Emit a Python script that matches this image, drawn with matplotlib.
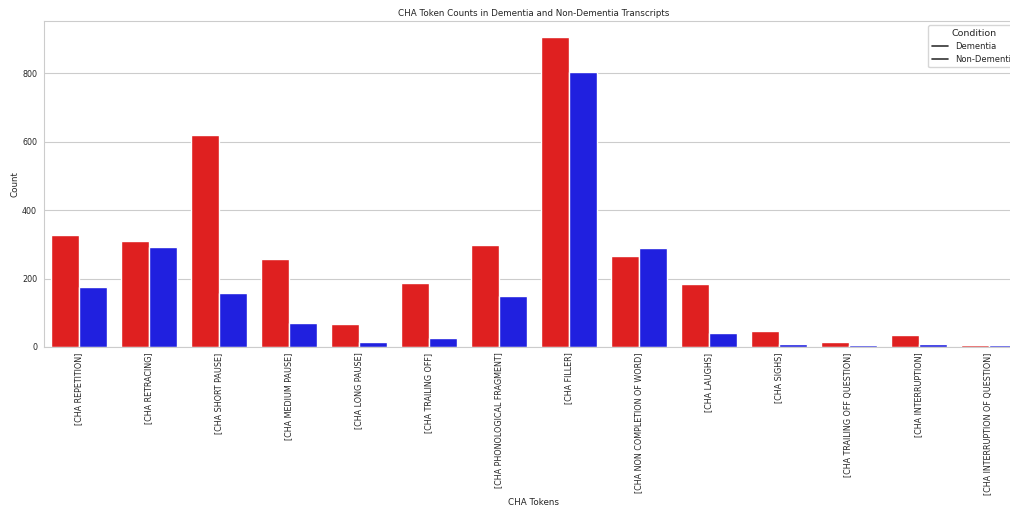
import numpy as np
import pandas as pd
import seaborn as sns
import matplotlib.pyplot as plt
from matplotlib.lines import Line2D

# Token categories and counts per condition
tokens = ["[CHA REPETITION]", "[CHA RETRACING]", "[CHA SHORT PAUSE]", "[CHA MEDIUM PAUSE]",
          "[CHA LONG PAUSE]", "[CHA TRAILING OFF]", "[CHA PHONOLOGICAL FRAGMENT]", "[CHA FILLER]",
          "[CHA NON COMPLETION OF WORD]", "[CHA LAUGHS]", "[CHA SIGHS]",
          "[CHA TRAILING OFF QUESTION]", "[CHA INTERRUPTION]", "[CHA INTERRUPTION OF QUESTION]"]
dementia = [327, 310, 619, 258, 67, 187, 298, 905, 266, 185, 47, 15, 35, 5]
non_dementia = [176, 291, 158, 70, 15, 26, 149, 803, 289, 41, 9, 5, 10, 5]
conditions = ["Dementia", "Non-Dementia"]

df = pd.DataFrame({
    "Token": tokens * 2,
    "Count": dementia + non_dementia,
    "Condition": [conditions[0]] * len(tokens) + [conditions[1]] * len(tokens),
})

sns.set_theme(style="whitegrid")
plt.rcParams['font.family'] = ['DejaVu Sans']

fig = plt.figure(figsize=(10.1, 5.08), dpi=100)
ax = fig.add_axes([0.0436, 0.317, 0.970, 0.6413])

sns.barplot(data=df, x="Token", y="Count", hue="Condition",
            palette=["red", "blue"], ax=ax)

ax.set_title("CHA Token Counts in Dementia and Non-Dementia Transcripts", fontsize=6.3, pad=4)
ax.set_xlabel("CHA Tokens", fontsize=6.3, labelpad=2)
ax.set_ylabel("Count", fontsize=6.3, labelpad=2)
ax.tick_params(axis="x", labelsize=5.8, rotation=90, pad=4, length=0)
ax.tick_params(axis="y", labelsize=5.8, pad=5, length=0)
ax.set_ylim(0, 952)
ax.grid(axis="y", linewidth=0.8)
for s in ax.spines.values():
    s.set_linewidth(0.8)

# legend handles come out as plain lines in the original
handles = [Line2D([], [], color="#333333", lw=1.2) for _ in conditions]
ax.legend(handles, conditions, title="Condition", loc="upper right",
          fontsize=6, title_fontsize=6.8, bbox_to_anchor=(1.0, 1.0))

fig.savefig("out.png", dpi=100)
